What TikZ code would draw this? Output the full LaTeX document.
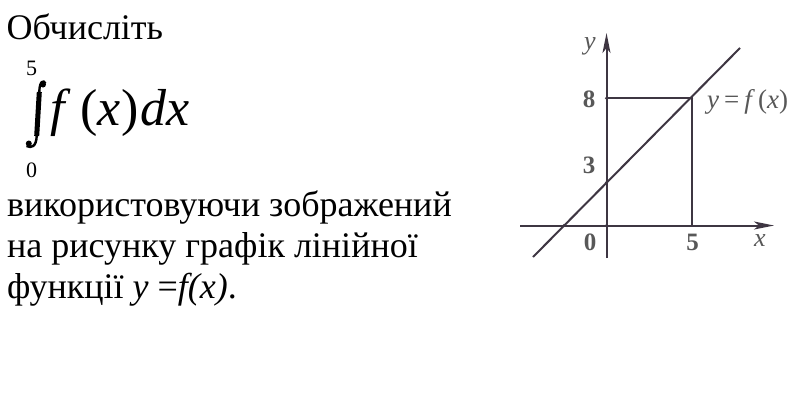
\documentclass[tikz,border=0pt]{standalone}
\usepackage{fontspec}
\setmainfont{Liberation Serif}[BoldFont={Liberation Serif Bold}, ItalicFont={Liberation Serif Italic}, BoldItalicFont={Liberation Serif Bold Italic}]
\usetikzlibrary{arrows.meta}
\definecolor{gline}{HTML}{3E3642}
\definecolor{glbl}{HTML}{585858}
\tikzset{
  txt/.style={anchor=base west, inner sep=0pt, font=\fontsize{36}{42}\selectfont},
  limit/.style={anchor=base, inner sep=0pt, font=\fontsize{22}{22}\selectfont},
  glabel/.style={inner sep=0pt, text=glbl, font=\fontsize{25}{25}\selectfont\bfseries},
  gvar/.style={inner sep=0pt, text=glbl, font=\fontsize{26}{26}\selectfont\itshape},
  gline/.style={draw=gline, line width=2pt},
  axisarrow/.style={-{Stealth[length=20pt,width=8pt,inset=5pt]}},
  joint/.style={fill=gline},
}
\begin{document}
\begin{tikzpicture}[x=1pt,y=-1pt]
\useasboundingbox (0,0) rectangle (800,400);
\fill[white] (0,0) rectangle (800,400);

% ---- text on the left ----
\node[txt] (t1) at (6.5,39) {Обчисліть};
\node[limit] (up) at (31.5,75) {5};
\node[limit] (lo) at (31.5,177) {0};
% integral sign
\fill (43,84.5) circle (3);
\fill (28.8,143.5) circle (3);
\draw[line width=2.4pt] (45.5,83.5) .. controls (43.5,79.5) and (39.5,81) .. (39.3,92);
\draw[line width=5pt] (39.3,92) -- (36.7,136);
\draw[line width=2.4pt] (36.7,136) .. controls (36.3,146.5) and (31.5,148.5) .. (26.5,146);
\node[anchor=base west, inner sep=0pt, font=\fontsize{52}{52}\selectfont] (fx) at (50,125)
  {\textit{f}\kern10pt(\textit{x})\kern2pt\textit{dx}};
\node[txt] (t2) at (7,216) {використовуючи зображений};
\node[txt] (t3) at (7,257.5) {на рисунку графік лінійної};
\node[txt] (t4) at (7,298.5) {функції \textit{y} =\textit{f(x)}.};

% ---- graph ----
\coordinate (O) at (606.5,225.5);
\coordinate (xl) at (520,225.5);
\coordinate (xr) at (774,225.5);
\coordinate (yb) at (606.5,258);
\coordinate (yt) at (606.5,33);
\coordinate (P) at (691.5,98.3);
\coordinate (Y8) at (606.5,98.3);
\coordinate (X5) at (691.5,225.5);
\coordinate (L1) at (533,257);
\coordinate (L2) at (740,48);
\coordinate (B) at (606.5,182.5);
\coordinate (A) at (564,225.5);

\draw[gline, axisarrow] (xl) -- (xr);
\draw[gline, axisarrow] (yb) -- (yt);
\draw[gline] (Y8) -- (P) -- (X5);
\draw[gline] (L1) -- (L2);
\foreach \p in {O,P,Y8,B,A} \fill[joint] (\p) circle (1.6);

\node[gvar] (ly) at (590,46) {y};
\node[gvar] (lx) at (760,241) {x};
\node[glabel] (l8) at (589,99.5) {8};
\node[glabel] (l3) at (589,165.5) {3};
\node[glabel] (l0) at (590,242) {0};
\node[glabel] (l5) at (692.5,242) {5};
\node[anchor=west, inner sep=0pt, text=glbl, font=\fontsize{27}{27}\selectfont] (lf) at (707,102)
  {\textit{y}\kern5pt=\kern5pt\textit{f}\kern3pt(\textit{x})};
\end{tikzpicture}
\end{document}
